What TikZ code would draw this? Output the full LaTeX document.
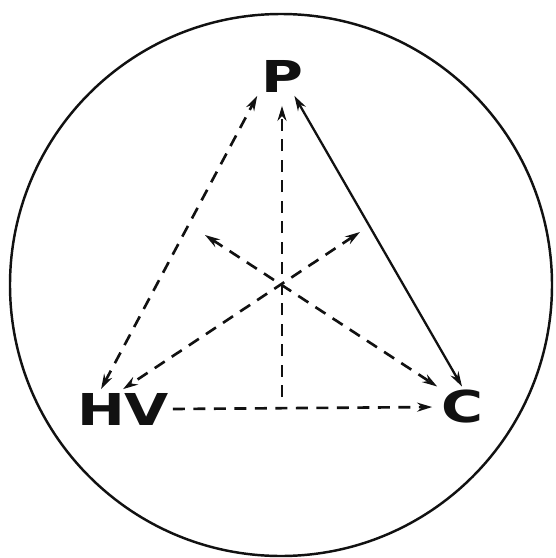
\documentclass[tikz,border=0pt]{standalone}
\usepackage{fontspec}
\usepackage{tikz}
\usetikzlibrary{arrows.meta,calc}
\newfontfamily\lblfont[FakeStretch=1.3]{DejaVu Sans}
\definecolor{ink}{HTML}{111111}

\begin{document}
\begin{tikzpicture}[x=0.02cm,y=-0.02cm,
  lbl/.style={font=\lblfont\bfseries\fontsize{25}{27}\selectfont,text=ink,inner sep=2pt},
  rim/.style={draw=ink,line width=1.4pt},
  tip/.style={{Stealth[length=3mm,width=1.8mm]}-{Stealth[length=3mm,width=1.8mm]}},
  one/.style={-{Stealth[length=3mm,width=1.8mm]}},
  dl/.style={draw=ink,line width=1.5pt,dash pattern=on 2.4mm off 1.7mm},
  sl/.style={draw=ink,line width=1.3pt}]
  \useasboundingbox (0,0) rectangle (555,558);
  \draw[rim] (281,285) circle[radius=271];
  \node[lbl] (p) at (282,76) {P};
  \node[lbl] (hv) at (123,409) {HV};
  \node[lbl] (c) at (462,407) {C};
  \coordinate (o) at (279,284);
  \coordinate (ul) at (205,235);
  \coordinate (ur) at (360,232);
  \coordinate (foot) at (282,397);
  \draw[sl,tip] ($(p.south)!0.5!(p.south east)$) -- (c.north);
  \draw[dl,tip] ($(hv.north west)!0.28!(hv.north east)$) -- (p.south west);
  \draw[dl,one,shorten >=2mm] (foot) -- (p.south);
  \draw[dl,tip] (ul) -- (c.north west);
  \draw[dl,tip] (ur) -- (hv.north);
  \draw[dl,one,shorten >=1mm] (hv.east) -- (c.west);
\end{tikzpicture}
\end{document}
